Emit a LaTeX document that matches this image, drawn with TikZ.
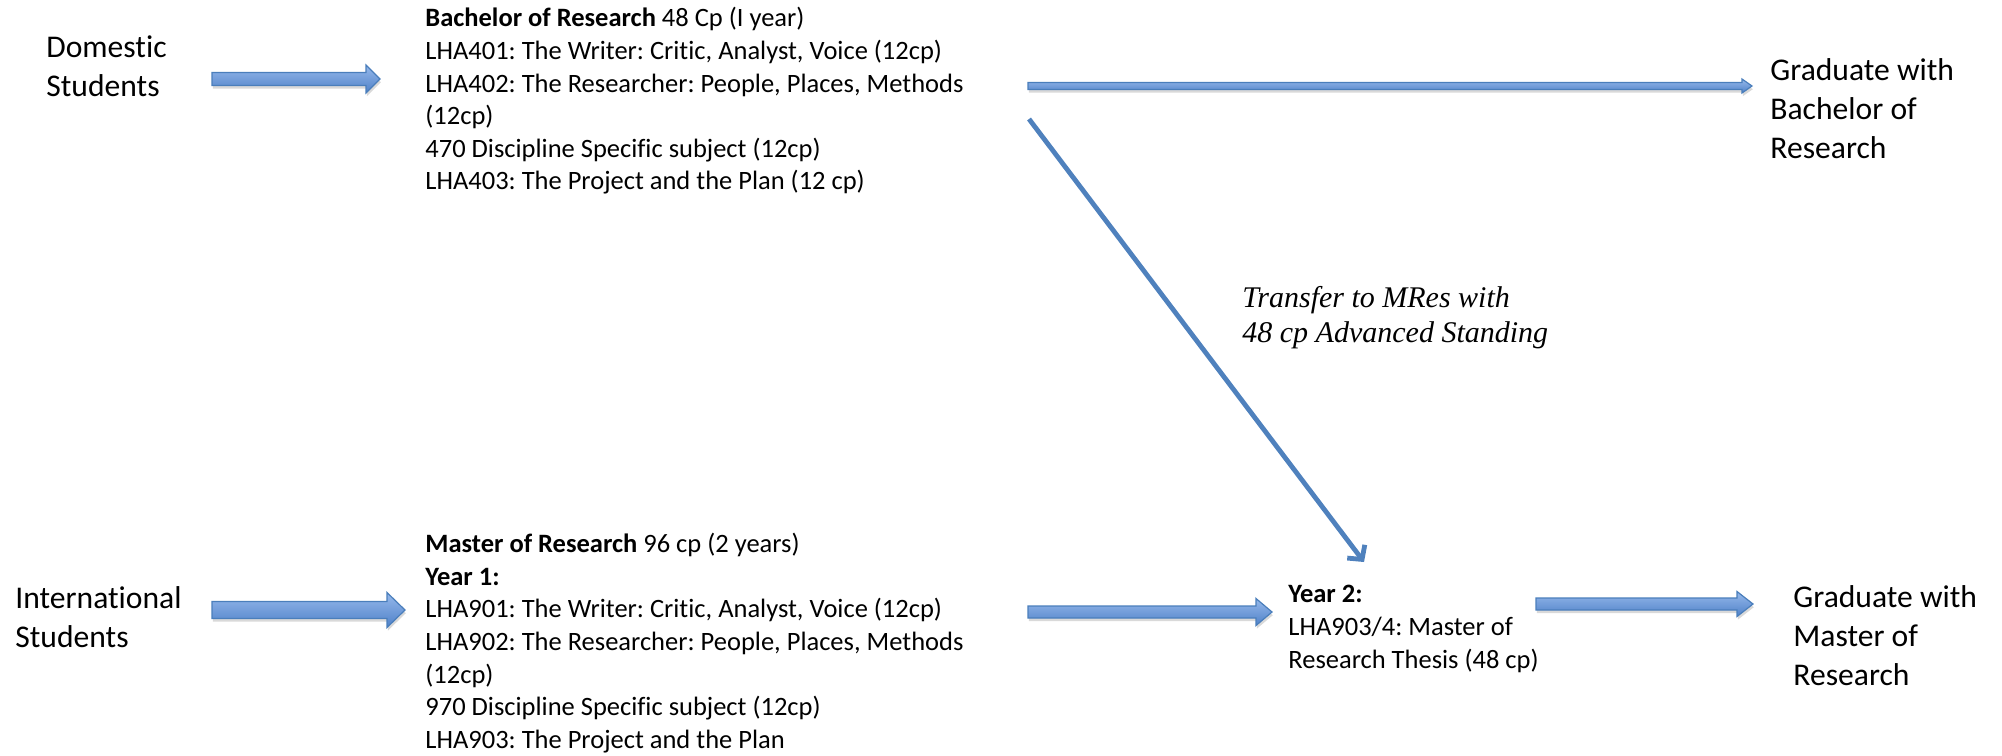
\documentclass[tikz,border=0pt]{standalone}
\usepackage{fontspec}
\setmainfont{Carlito}[Ligatures=NoCommon]
\newfontfamily\notefont{Liberation Serif}
\usepackage{tikz}
\usetikzlibrary{calc,arrows.meta,shadows}
\frenchspacing

\definecolor{arrowedge}{RGB}{74,126,187}
\definecolor{arrowtop}{RGB}{150,185,235}
\definecolor{arrowbottom}{RGB}{79,129,200}
\definecolor{linkblue}{RGB}{79,129,189}

\begin{document}
\begin{tikzpicture}[x=0.5pt,y=-0.5pt,
    big/.style={inner sep=0pt,anchor=west,align=left,font=\fontsize{15.8}{19.5}\selectfont},
    body/.style={inner sep=0pt,anchor=west,align=left,font=\fontsize{13.25}{16.3}\selectfont},
    note/.style={inner sep=0pt,anchor=west,align=left,font=\notefont\itshape\fontsize{15}{17.5}\selectfont},
    blockarrow/.style n args={3}{draw=arrowedge,line width=0.6pt,top color=arrowtop,bottom color=arrowbottom,
        drop shadow={shadow xshift=0.4pt,shadow yshift=-1.6pt,opacity=0.3},
        to path={let \p1=(\tikztostart),\p2=(\tikztotarget) in
            (\x1,\y1+#1) -- (\x2-#3,\y1+#1) -- (\x2-#3,\y1+#2) -- (\x2,\y1)
            -- (\x2-#3,\y1-#2) -- (\x2-#3,\y1-#1) -- (\x1,\y1-#1) -- cycle}},
    transfer/.style={draw=linkblue,line width=2.4pt,-{Straight Barb[length=5pt,width=11pt]}}]
  \useasboundingbox (0,0) rectangle (2002,755);

  % who comes in
  \node[big] (dom) at (46,66) {Domestic\\Students};
  \node[big] (intl) at (15,617) {International\\Students};

  % the two courses
  \node[body] (bach) at (425,101) {\textbf{Bachelor of Research} 48 Cp (I year)\\
    LHA401: The Writer: Critic, Analyst, Voice (12cp)\\
    LHA402: The Researcher: People, Places, Methods\\
    (12cp)\\
    470 Discipline Specific subject (12cp)\\
    LHA403: The Project and the Plan (12 cp)};
  \node[body] (mres) at (425,643) {\textbf{Master of Research} 96 cp (2 years)\\
    \textbf{Year 1:}\\
    LHA901: The Writer: Critic, Analyst, Voice (12cp)\\
    LHA902: The Researcher: People, Places, Methods\\
    (12cp)\\
    970 Discipline Specific subject (12cp)\\
    LHA903: The Project and the Plan};
  \node[body] (yeartwo) at (1288,629) {\textbf{Year 2:}\\
    LHA903/4: Master of\\
    Research Thesis (48 cp)};

  % where they end
  \node[big] (gradba) at (1770,109) {Graduate with\\Bachelor of\\Research};
  \node[big] (gradmr) at (1793,636) {Graduate with\\Master of\\Research};

  \node[note] (move) at (1242,318) {Transfer to MRes with\\48 cp Advanced Standing};

  % arrows
  \draw[blockarrow={3.25pt}{7pt}{7pt}] ($(dom.west)+(166,13)$) to ($(bach.west)+(-45,0)$);
  \draw[blockarrow={1.75pt}{3.5pt}{5pt}] ($(bach.west)+(603,-15)$) to ($(gradba.west)+(-18,0)$);
  \draw[transfer] ($(bach.west)+(604,18)$) -- ($(yeartwo.west)+(76,-67)$);
  \draw[blockarrow={4.25pt}{8.75pt}{9pt}] ($(intl.west)+(197,-7)$) to ($(mres.west)+(-20,0)$);
  \draw[blockarrow={3pt}{6.75pt}{8pt}] ($(mres.west)+(603,-31)$) to ($(yeartwo.west)+(-16,0)$);
  \draw[blockarrow={3pt}{6.25pt}{8pt}] ($(yeartwo.west)+(248,-25)$) to ($(gradmr.west)+(-40,0)$);
\end{tikzpicture}
\end{document}
